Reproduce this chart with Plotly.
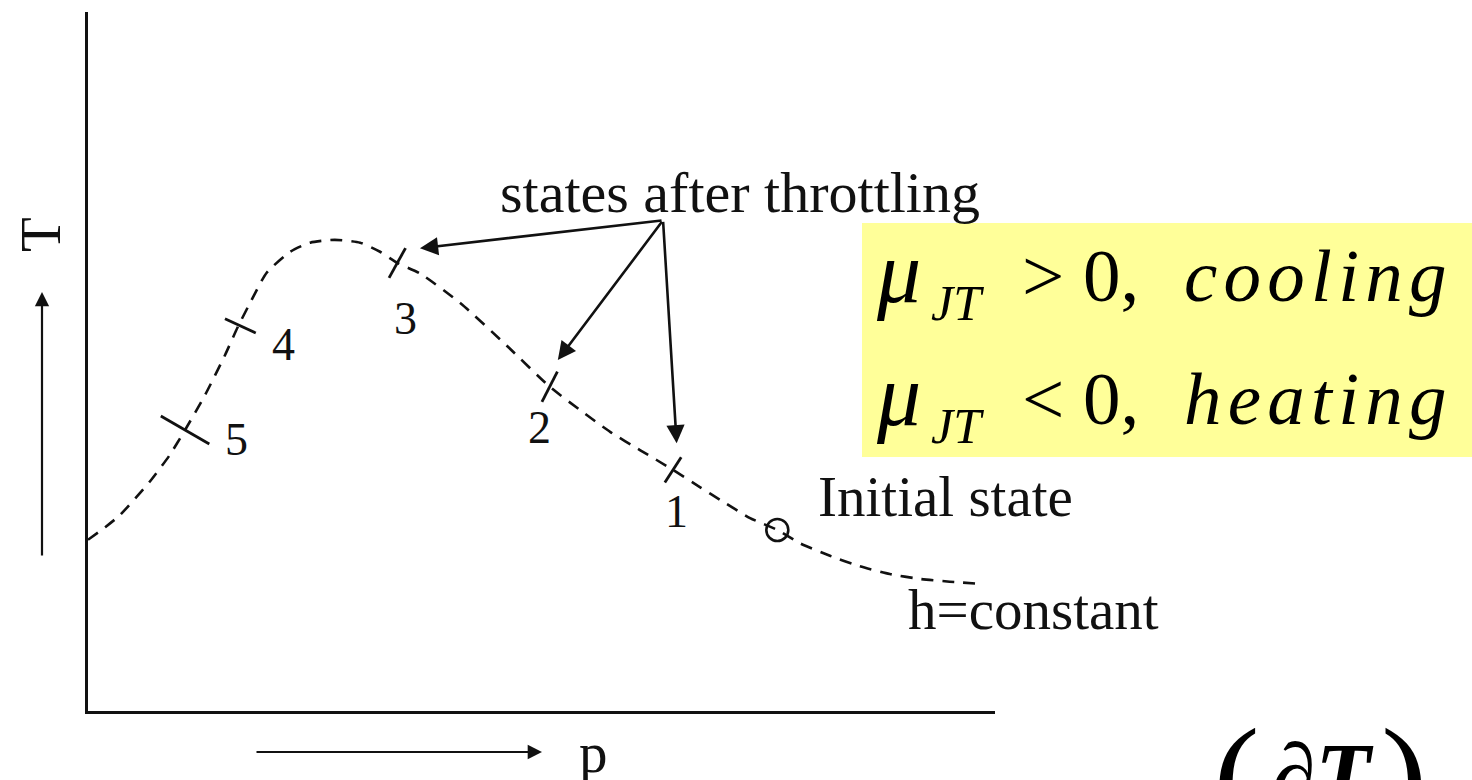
import math
import plotly.graph_objects as go

W, H = 1472, 780
SERIF = "Liberation Serif"
INK = "#111"

# Constant-enthalpy (isenthalpic) curve in the T-p plane, plot units 0..100
curve_p = [0, 1.9, 3.5, 6.8, 9.0, 10.7, 12.9, 15.1, 16.5, 18.2, 19.7, 22.3, 24.5,
           27.2, 30.0, 32.2, 34.1, 36.6, 41.1, 46.3, 50.9, 54.2, 57.6, 60.9,
           64.5, 67.5, 69.7, 73.0, 76.0, 78.5, 81.8, 85.1, 88.4, 91.7, 95.0, 98.3]
curve_T = [24.5, 26.3, 28.0, 32.8, 36.6, 40.2, 45.2, 50.9, 54.9, 59.2, 62.7, 65.7, 67.0,
           67.4, 67.0, 65.7, 64.1, 62.6, 58.3, 52.1, 46.4, 43.1, 39.9, 37.3,
           34.5, 32.0, 30.2, 27.6, 25.9, 24.0, 22.2, 20.7, 19.6, 18.9, 18.5, 18.2]

# States after throttling, numbered 1..5
state_names = ["1", "2", "3", "4", "5"]
state_p = [64.5, 50.9, 34.1, 16.8, 10.7]
state_T = [34.5, 46.4, 64.1, 55.1, 40.2]
label_p = [64.9, 49.8, 35.0, 21.5, 16.4]
label_T = [28.5, 40.5, 56.2, 52.4, 38.8]

# Initial state on the curve
init_p, init_T = 76.0, 25.9

# Arrows from the "states after throttling" caption to states 3, 2, 1
arrow_from = (63.4, 70.2)
arrow_to_p = [36.6, 51.8, 64.9]
arrow_to_T = [66.2, 50.2, 38.3]

# Plot box in pixels
X0, X1, Y0, Y1 = 88, 995, 711, 12
PX_P = (X1 - X0) / 100.0   # pixels per p unit
PX_T = (Y0 - Y1) / 100.0   # pixels per T unit

# Tick strokes: direction (degrees, screen-upward) and length in pixels
tick_dir = [57, 63, 61, -25, -30]
tick_len = [30, 34, 34, 34, 56]


def px(x):
    return x / W


def py(y):
    return 1 - y / H


tick_x, tick_y = [], []
for p, t, a, L in zip(state_p, state_T, tick_dir, tick_len):
    dx = math.cos(math.radians(a)) * L / 2 / PX_P
    dy = math.sin(math.radians(a)) * L / 2 / PX_T
    tick_x += [p - dx, p + dx, None]
    tick_y += [t - dy, t + dy, None]

fig = go.Figure()

fig.add_trace(go.Scatter(
    x=curve_p, y=curve_T, mode="lines",
    line=dict(color=INK, width=2.6, dash="12px,9px", shape="spline", smoothing=0.6),
    hoverinfo="skip", cliponaxis=False,
))

fig.add_trace(go.Scatter(
    x=tick_x, y=tick_y, mode="lines",
    line=dict(color=INK, width=2.8),
    hoverinfo="skip", cliponaxis=False,
))

fig.add_trace(go.Scatter(
    x=[init_p], y=[init_T], mode="markers",
    marker=dict(symbol="circle-open", size=22, color=INK, line=dict(color=INK, width=2.6)),
    hoverinfo="skip", cliponaxis=False,
))

ann = []
for name, lp, lt in zip(state_names, label_p, label_T):
    ann.append(dict(x=lp, y=lt, xref="x", yref="y", text=name, showarrow=False,
                    xanchor="center", yanchor="middle",
                    font=dict(family=SERIF, size=46, color=INK)))

for tp, tt in zip(arrow_to_p, arrow_to_T):
    ann.append(dict(x=tp, y=tt, xref="x", yref="y", ax=arrow_from[0], ay=arrow_from[1],
                    axref="x", ayref="y", text="", showarrow=True,
                    arrowhead=2, arrowsize=1.4, arrowwidth=2.6, arrowcolor=INK))


def label(x, y, text, size=57, angle=0, color=INK, xa="center", ya="middle"):
    return dict(x=px(x), y=py(y), xref="paper", yref="paper", text=text,
                textangle=angle, showarrow=False, xanchor=xa, yanchor=ya,
                font=dict(family=SERIF, size=size, color=color))


HS = "\u200a"  # hair space for the spaced-out italic words

ann += [
    label(740, 192, "states after throttling", size=58),
    label(945, 497, "Initial state"),
    label(1033, 609, "h=constant"),
    # axis direction arrows and names
    dict(x=px(42), y=py(292), xref="paper", yref="paper", ax=0, ay=265, text="",
         showarrow=True, arrowhead=2, arrowsize=1.3, arrowwidth=2.2, arrowcolor=INK),
    dict(x=px(542), y=py(752), xref="paper", yref="paper", ax=-287, ay=0, text="",
         showarrow=True, arrowhead=2, arrowsize=1.3, arrowwidth=2.2, arrowcolor=INK),
    label(40, 235, "T", angle=-90),
    label(593, 752, "p"),
]

# Joule-Thomson coefficient sign, one row per case
for base, sign, word in [(300, ">", "cooling"), (423, "<", "heating")]:
    ann += [
        label(874, base - 28, "<i>μ</i>", size=88, color="#000", xa="left"),
        label(929, base + 3, "<i>JT</i>", size=50, color="#000", xa="left"),
        label(1020, base - 25, sign + " 0,", size=75, color="#000", xa="left"),
        label(1182, base - 25, "<i>" + HS.join(word) + "</i>", size=75, color="#000", xa="left"),
    ]

# start of the defining derivative
ann += [
    label(1236, 698, "(", size=140, color="#000", ya="top"),
    label(1404, 698, ")", size=140, color="#000", ya="top"),
    label(1322, 724, "∂<b><i>T</i></b>", size=90, color="#000", ya="top"),
]

fig.update_layout(
    width=W, height=H,
    margin=dict(l=0, r=0, t=0, b=0),
    paper_bgcolor="white", plot_bgcolor="white",
    showlegend=False,
    xaxis=dict(range=[0, 100], domain=[px(X0), px(X1)], showgrid=False, zeroline=False,
               showticklabels=False, ticks="", showline=True, linecolor=INK, linewidth=2.6),
    yaxis=dict(range=[0, 100], domain=[py(Y0), py(Y1)], showgrid=False, zeroline=False,
               showticklabels=False, ticks="", showline=True, linecolor=INK, linewidth=2.6),
    shapes=[dict(type="rect", xref="paper", yref="paper", x0=px(862), x1=1.0,
                 y0=py(457), y1=py(223), fillcolor="#FFFF99", line=dict(width=0),
                 layer="below")],
    annotations=ann,
)

fig.write_html("out.html")
